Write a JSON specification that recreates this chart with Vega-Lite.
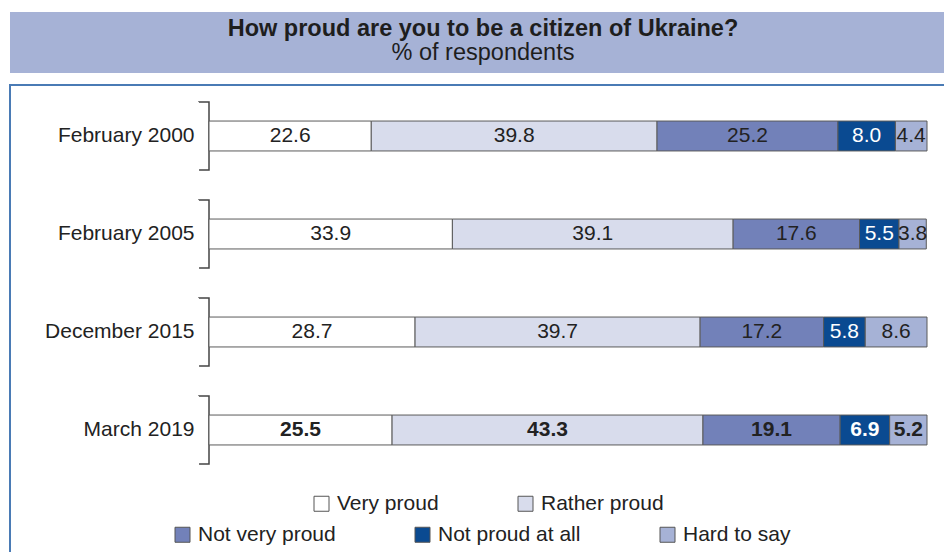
{
  "$schema": "https://vega.github.io/schema/vega-lite/v6.json",
  "padding": {"left": 9, "top": 12, "right": 0, "bottom": 0},
  "spacing": 11,
  "background": "white",
  "config": {
    "font": "Liberation Sans",
    "view": {"stroke": null},
    "concat": {"spacing": 11}
  },
  "vconcat": [
    {
      "width": 940,
      "height": 61,
      "view": {"fill": "#a6b2d6", "stroke": null},
      "layer": [
        {
          "data": {"values": [{"t": "How proud are you to be a citizen of Ukraine?"}]},
          "mark": {"type": "text", "font": "Liberation Sans", "fontSize": 23.5, "fontWeight": "bold", "color": "#1e1e1e", "dy": -6.5, "align": "center", "baseline": "alphabetic"},
          "encoding": {"text": {"field": "t"}, "x": {"value": 473}}
        },
        {
          "data": {"values": [{"t": "% of respondents"}]},
          "mark": {"type": "text", "font": "Liberation Sans", "fontSize": 23.5, "color": "#1e1e1e", "dy": 17.5, "align": "center", "baseline": "alphabetic"},
          "encoding": {"text": {"field": "t"}, "x": {"value": 473}}
        }
      ]
    },
    {
      "width": 940,
      "height": 480,
      "view": {"stroke": "#4a7bb5", "strokeWidth": 2, "fill": "white"},
      "data": {
        "values": [
          {"period": "February 2000", "answer": "Very proud", "value": 22.6},
          {"period": "February 2000", "answer": "Rather proud", "value": 39.8},
          {"period": "February 2000", "answer": "Not very proud", "value": 25.2},
          {"period": "February 2000", "answer": "Not proud at all", "value": 8.0},
          {"period": "February 2000", "answer": "Hard to say", "value": 4.4},
          {"period": "February 2005", "answer": "Very proud", "value": 33.9},
          {"period": "February 2005", "answer": "Rather proud", "value": 39.1},
          {"period": "February 2005", "answer": "Not very proud", "value": 17.6},
          {"period": "February 2005", "answer": "Not proud at all", "value": 5.5},
          {"period": "February 2005", "answer": "Hard to say", "value": 3.8},
          {"period": "December 2015", "answer": "Very proud", "value": 28.7},
          {"period": "December 2015", "answer": "Rather proud", "value": 39.7},
          {"period": "December 2015", "answer": "Not very proud", "value": 17.2},
          {"period": "December 2015", "answer": "Not proud at all", "value": 5.8},
          {"period": "December 2015", "answer": "Hard to say", "value": 8.6},
          {"period": "March 2019", "answer": "Very proud", "value": 25.5},
          {"period": "March 2019", "answer": "Rather proud", "value": 43.3},
          {"period": "March 2019", "answer": "Not very proud", "value": 19.1},
          {"period": "March 2019", "answer": "Not proud at all", "value": 6.9},
          {"period": "March 2019", "answer": "Hard to say", "value": 5.2}
        ]
      },
      "transform": [
        {"calculate": "indexof(['Very proud','Rather proud','Not very proud','Not proud at all','Hard to say'], datum.answer)", "as": "ord"},
        {"stack": "value", "groupby": ["period"], "sort": [{"field": "ord", "order": "ascending"}], "as": ["v0", "v1"]},
        {"calculate": "(datum.v0 + datum.v1) / 2", "as": "mid"}
      ],
      "encoding": {
        "y": {
          "field": "period",
          "type": "nominal",
          "scale": {"domain": ["February 2000", "February 2005", "December 2015", "March 2019"], "range": [17, 379], "paddingInner": 0.306, "paddingOuter": 0},
          "axis": {"title": null, "domain": false, "ticks": false, "tickSize": 0, "labelPadding": -184, "labelFontSize": 21, "labelColor": "#222", "labelFont": "Liberation Sans", "labelLimit": 300}
        }
      },
      "layer": [
        {
          "transform": [{"filter": "datum.answer === 'Very proud'"}],
          "mark": {"type": "bar", "fill": null, "fillOpacity": 0, "stroke": "#444", "strokeWidth": 1.5, "strokeDash": [88, 68], "height": {"band": 1}},
          "encoding": {
            "x": {"datum": -1.4, "type": "quantitative", "scale": {"domain": [0, 100], "range": [199, 917], "nice": false, "zero": false}, "axis": null},
            "x2": {"datum": 0}
          }
        },
        {
          "mark": {"type": "bar", "stroke": "#5a5a5a", "strokeWidth": 1, "height": {"band": 0.44}},
          "encoding": {
            "x": {"field": "v0", "type": "quantitative", "axis": null},
            "x2": {"field": "v1"},
            "fill": {
              "field": "answer",
              "type": "nominal",
              "scale": {"domain": ["Very proud", "Rather proud", "Not very proud", "Not proud at all", "Hard to say"], "range": ["#ffffff", "#d8dcec", "#7281b9", "#0a4a91", "#a6b2d6"]},
              "legend": {
                "values": ["Very proud", "Rather proud"],
                "title": null, "orient": "none", "direction": "horizontal",
                "legendX": 301, "legendY": 481,
                "symbolType": "square", "symbolSize": 225, "symbolStrokeColor": "#555", "symbolStrokeWidth": 1,
                "labelFontSize": 21, "labelColor": "#222", "labelFont": "Liberation Sans", "labelOffset": 5, "columnPadding": 76, "labelLimit": 300
              }
            }
          }
        },
        {
          "mark": {"type": "square", "opacity": 0, "size": 10},
          "encoding": {
            "x": {"field": "mid", "type": "quantitative"},
            "color": {
              "field": "answer",
              "type": "nominal",
              "scale": {"domain": ["Not very proud", "Not proud at all", "Hard to say"], "range": ["#7281b9", "#0a4a91", "#a6b2d6"]},
              "legend": {
                "title": null, "orient": "none", "direction": "horizontal",
                "legendX": 162, "legendY": 512,
                "symbolType": "square", "symbolSize": 225, "symbolOpacity": 1, "symbolStrokeColor": "#555", "symbolStrokeWidth": 1,
                "labelFontSize": 21, "labelColor": "#222", "labelFont": "Liberation Sans", "labelOffset": 5, "columnPadding": 76, "labelLimit": 300
              }
            }
          }
        },
        {
          "transform": [{"filter": "datum.period !== 'March 2019'"}],
          "mark": {"type": "text", "fontSize": 21, "font": "Liberation Sans", "align": "center", "baseline": "middle"},
          "encoding": {
            "x": {"field": "mid", "type": "quantitative"},
            "text": {"field": "value", "type": "quantitative", "format": ".1f"},
            "fill": {"condition": {"test": "datum.answer === 'Not proud at all'", "value": "#ffffff"}, "value": "#222222"}
          }
        },
        {
          "transform": [{"filter": "datum.period === 'March 2019'"}],
          "mark": {"type": "text", "fontSize": 21, "fontWeight": "bold", "font": "Liberation Sans", "align": "center", "baseline": "middle"},
          "encoding": {
            "x": {"field": "mid", "type": "quantitative"},
            "text": {"field": "value", "type": "quantitative", "format": ".1f"},
            "fill": {"condition": {"test": "datum.answer === 'Not proud at all'", "value": "#ffffff"}, "value": "#222222"}
          }
        }
      ]
    }
  ]
}
